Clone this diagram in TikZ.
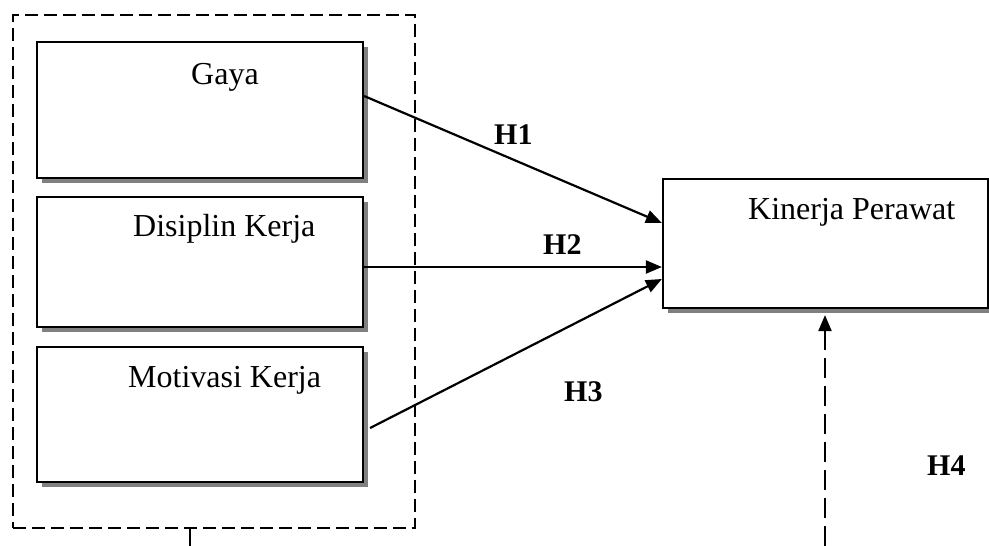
\documentclass[tikz,border=0pt]{standalone}
\usepackage{fontspec}
\setmainfont{Liberation Serif}
\usetikzlibrary{arrows.meta,shadows}

\begin{document}
\begin{tikzpicture}[x=1pt,y=-1pt,
  varbox/.style={draw=black, line width=2.2pt, fill=white, rectangle, inner sep=0pt,
    drop shadow={shadow xshift=5pt, shadow yshift=-5pt, fill=black!50, opacity=1}},
  boxtext/.style={anchor=base west, inner sep=0pt, font=\fontsize{32}{38}\selectfont},
  hyp/.style={anchor=base west, inner sep=0pt, font=\fontsize{30}{36}\selectfont\bfseries},
  link/.style={line width=2.2pt, -{Triangle[length=16pt,width=13pt]}},
  groupline/.style={line width=2pt, dash pattern=on 13pt off 6pt},
  modline/.style={line width=2.2pt, dash pattern=on 20pt off 8pt, -{Triangle[length=16pt,width=13pt]}}
]
\useasboundingbox (0,0) rectangle (989,546);

% group of independent variables
\node[draw, groupline, minimum width=402pt, minimum height=513pt, inner sep=0pt] (group) at (214,271.5) {};

% variable boxes
\node[varbox, minimum width=326pt, minimum height=136pt] (gaya) at (200,110) {};
\node[varbox, minimum width=326pt, minimum height=130pt] (disiplin) at (200,262) {};
\node[varbox, minimum width=326pt, minimum height=135pt] (motivasi) at (200,414.5) {};
\node[varbox, minimum width=325pt, minimum height=129pt] (kinerja) at (825.5,243.5) {};

% box captions
\node[boxtext] (tgaya) at (191,84) {Gaya};
\node[boxtext] (tdisiplin) at (133,236) {Disiplin Kerja};
\node[boxtext] (tmotivasi) at (128,387) {Motivasi Kerja};
\node[boxtext] (tkinerja) at (748,219) {Kinerja Perawat};

% hypothesis paths
\draw[link] ([yshift=14pt]gaya.east) -- ([yshift=20.5pt]kinerja.west);
\draw[link] ([yshift=-5pt]disiplin.east) -- ([yshift=-23.5pt]kinerja.west);
\draw[link] ([xshift=6pt,yshift=-13.5pt]motivasi.east) -- ([yshift=-35.5pt]kinerja.west);

% joint effect
\coordinate (tickend) at (190,546);
\draw[line width=2.2pt] (tickend) -- (tickend |- group.south);
\coordinate (h4start) at (825,546);
\draw[modline] (h4start) -- ([yshift=-6pt]kinerja.south -| h4start);

% hypothesis labels
\node[hyp] (h1) at (494,144) {H1};
\node[hyp] (h2) at (543,254) {H2};
\node[hyp] (h3) at (564,401) {H3};
\node[hyp] (h4) at (927,475) {H4};
\end{tikzpicture}
\end{document}
